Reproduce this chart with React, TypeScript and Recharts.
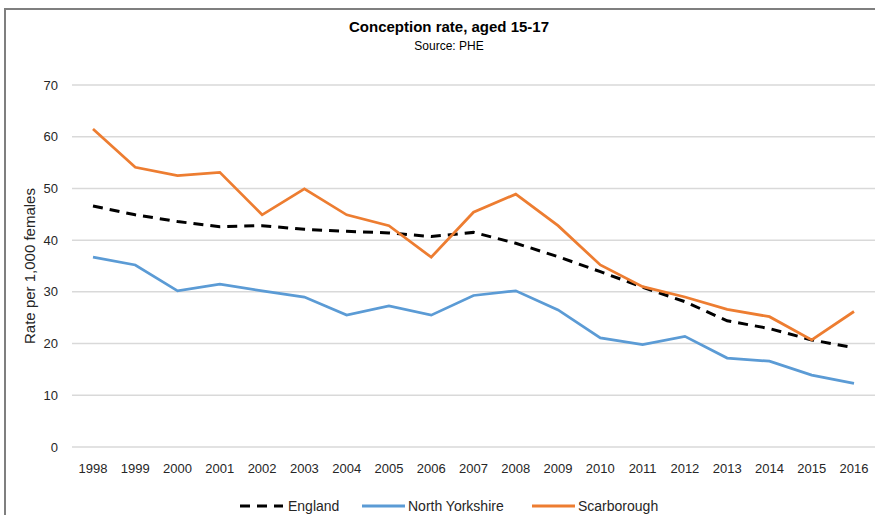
import React from 'react';
import { LineChart, Line, XAxis, YAxis, CartesianGrid, Legend } from 'recharts';

const years = ['1998','1999','2000','2001','2002','2003','2004','2005','2006','2007','2008','2009','2010','2011','2012','2013','2014','2015','2016'];
const england = [46.6, 44.9, 43.6, 42.6, 42.8, 42.1, 41.7, 41.4, 40.7, 41.5, 39.4, 36.8, 33.9, 30.9, 28.1, 24.4, 22.9, 20.7, 19.2];
const northYorkshire = [36.7, 35.2, 30.2, 31.5, 30.2, 29.0, 25.5, 27.3, 25.5, 29.3, 30.2, 26.5, 21.1, 19.8, 21.4, 17.2, 16.6, 13.9, 12.3];
const scarborough = [61.5, 54.1, 52.5, 53.1, 44.9, 49.9, 44.9, 42.8, 36.7, 45.4, 48.9, 42.8, 35.2, 31.0, 29.0, 26.6, 25.2, 20.7, 26.2];
const yTicks = [0, 10, 20, 30, 40, 50, 60, 70];

const data = years.map((y, i) => ({
  year: y,
  England: england[i],
  'North Yorkshire': northYorkshire[i],
  Scarborough: scarborough[i],
}));

const FONT = '"Liberation Sans Narrow", "Arial Narrow", "Liberation Sans", sans-serif';

const legendItems = [
  { name: 'England', color: '#000000', dash: '10 7', x: 240 },
  { name: 'North Yorkshire', color: '#5B9BD5', dash: undefined, x: 362 },
  { name: 'Scarborough', color: '#ED7D31', dash: undefined, x: 532 },
];

const renderLegend = () => (
  <svg width={875} height={24} style={{ display: 'block' }}>
    {legendItems.map((it) => (
      <g key={it.name}>
        <line x1={it.x} x2={it.x + 43} y1={12} y2={12} stroke={it.color} strokeWidth={3} strokeDasharray={it.dash} />
        <text x={it.name === 'England' ? it.x + 48 : it.x + 46} y={17} fontSize={14} fill="#262626" fontFamily={FONT}>{it.name}</text>
      </g>
    ))}
  </svg>
);

export default function App() {
  return (
    <div style={{ position: 'absolute', left: 0, top: 0, width: 875, height: 515, background: '#fff', overflow: 'hidden', fontFamily: FONT }}>
      <div style={{ position: 'absolute', left: 4, top: 8, width: 875, height: 515, borderTop: '2px solid #7f7f7f', borderLeft: '2px solid #7f7f7f' }} />
      <div style={{ position: 'absolute', left: 0, top: 18, width: 898, textAlign: 'center', fontSize: 15, fontWeight: 'bold', color: '#000' }}>Conception rate, aged 15-17</div>
      <div style={{ position: 'absolute', left: 0, top: 39, width: 898, textAlign: 'center', fontSize: 12, color: '#000' }}>Source: PHE</div>
      <LineChart width={875} height={515} data={data} margin={{ top: 85, right: 0, left: 0, bottom: 8 }}>
        <CartesianGrid horizontal vertical={false} stroke="#d9d9d9" strokeWidth={1.5} />
        <XAxis dataKey="year" axisLine={false} tickLine={false} tickMargin={11} height={30} padding={{ left: 21, right: 21 }}
          tick={{ fontSize: 13, fill: '#262626', fontFamily: FONT }} interval={0} />
        <YAxis domain={[0, 70]} ticks={yTicks} axisLine={false} tickLine={false} width={72} tickMargin={8}
          tick={{ fontSize: 13, fill: '#262626', fontFamily: FONT }}
          label={{ value: 'Rate per 1,000 females', angle: -90, position: 'insideLeft', offset: 30, style: { textAnchor: 'middle', fontSize: 15, fill: '#262626', fontFamily: FONT } }} />
        <Legend verticalAlign="bottom" height={30} content={renderLegend} wrapperStyle={{ bottom: -9 }} />
        <Line type="linear" dataKey="England" stroke="#000000" strokeWidth={3} strokeDasharray="10 7" dot={false} isAnimationActive={false} />
        <Line type="linear" dataKey="North Yorkshire" stroke="#5B9BD5" strokeWidth={2.75} dot={false} isAnimationActive={false} />
        <Line type="linear" dataKey="Scarborough" stroke="#ED7D31" strokeWidth={2.75} dot={false} isAnimationActive={false} />
      </LineChart>
    </div>
  );
}
